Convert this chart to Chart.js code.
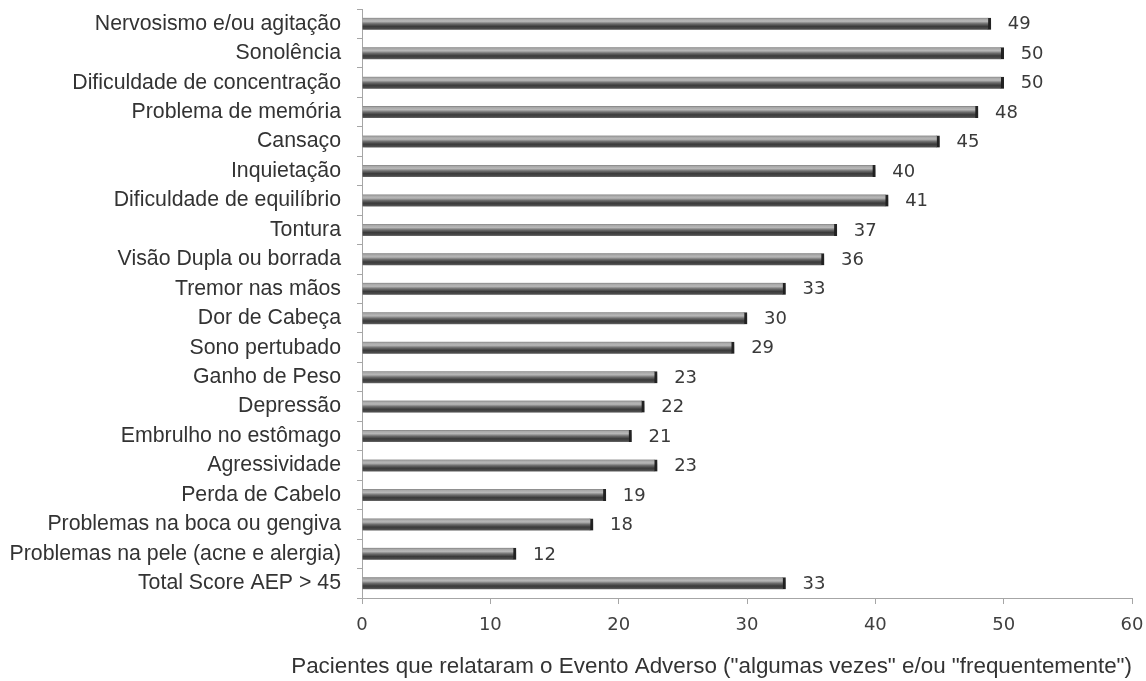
<!DOCTYPE html>
<html>
<head>
<meta charset="utf-8">
<script src="https://cdn.jsdelivr.net/npm/chart.js@4/dist/chart.umd.min.js"></script>
<style>
    html, body { margin: 0; padding: 0; background: #fff; }
    #wrap { width: 1146px; height: 681px; }
</style>
</head>
<body>
<div id="wrap"><canvas id="chart"></canvas></div>
<script>
'use strict';

var categories = [
    'Nervosismo e/ou agitação',
    'Sonolência',
    'Dificuldade de concentração',
    'Problema de memória',
    'Cansaço',
    'Inquietação',
    'Dificuldade de equilíbrio',
    'Tontura',
    'Visão Dupla ou borrada',
    'Tremor nas mãos',
    'Dor de Cabeça',
    'Sono pertubado',
    'Ganho de Peso',
    'Depressão',
    'Embrulho no estômago',
    'Agressividade',
    'Perda de Cabelo',
    'Problemas na boca ou gengiva',
    'Problemas na pele (acne e alergia)',
    'Total Score AEP > 45'
];
var patients = [49, 50, 50, 48, 45, 40, 41, 37, 36, 33, 30, 29, 23, 22, 21, 23, 19, 18, 12, 33];
var xTicks = [0, 10, 20, 30, 40, 50, 60];
var xTitle = 'Pacientes que relataram o Evento Adverso ("algumas vezes" e/ou "frequentemente")';

var axisGray = '#a6a6a6';

// cylinder-like gray fill, built per bar from the y scale
var barFill = function (context) {
    var chart = context.chart;
    if (!chart.chartArea) {
        return '#555';
    }
    var y = chart.scales.y.getPixelForValue(context.dataIndex);
    var g = chart.ctx.createLinearGradient(0, y - 6, 0, y + 6);
    g.addColorStop(0, '#808080');
    g.addColorStop(0.12, '#a9a9a9');
    g.addColorStop(0.3, '#b8b8b8');
    g.addColorStop(0.5, '#6e6e6e');
    g.addColorStop(0.72, '#3a3a3a');
    g.addColorStop(0.9, '#4a4a4a');
    g.addColorStop(1, '#6a6a6a');
    return g;
};

// soft shadow under the bars
var barShadow = {
    id: 'barShadow',
    beforeDatasetDraw: function (chart) {
        var ctx = chart.ctx;
        ctx.save();
        ctx.shadowColor = 'rgba(0,0,0,0.35)';
        ctx.shadowBlur = 4;
        ctx.shadowOffsetX = 1;
        ctx.shadowOffsetY = 3;
    },
    afterDatasetDraw: function (chart) {
        chart.ctx.restore();
    }
};

// value labels at the end of each bar
var valueLabels = {
    id: 'valueLabels',
    afterDatasetsDraw: function (chart) {
        var ctx = chart.ctx;
        var meta = chart.getDatasetMeta(0);
        ctx.save();
        ctx.font = '18px "DejaVu Sans"';
        ctx.fillStyle = '#3a3a3a';
        ctx.textAlign = 'left';
        ctx.textBaseline = 'middle';
        meta.data.forEach(function (bar, i) {
            ctx.fillText(String(patients[i]), bar.x + 17, bar.y + 1);
        });
        ctx.restore();
    }
};

// keep the plot box where the layout padding puts it
var noLabelPadding = function (scale) {
    scale.paddingTop = 0;
    scale.paddingBottom = 0;
    scale.paddingLeft = 0;
    scale.paddingRight = 0;
};

new Chart(document.getElementById('chart'), {
    type: 'bar',
    data: {
        labels: categories,
        datasets: [{
            data: patients,
            backgroundColor: barFill,
            borderColor: '#262626',
            borderWidth: { top: 0, right: 3, bottom: 0, left: 0 },
            borderSkipped: false,
            barThickness: 12
        }]
    },
    options: {
        indexAxis: 'y',
        responsive: true,
        maintainAspectRatio: false,
        animation: false,
        layout: { padding: { top: 9, right: 14, bottom: 0, left: 0 } },
        plugins: {
            legend: { display: false },
            tooltip: { enabled: false },
            // axis title sits off-centre in the source, so it is drawn as the chart title aligned right
            title: {
                display: true,
                position: 'bottom',
                align: 'end',
                text: xTitle,
                color: '#333',
                padding: { top: 0, bottom: 1 },
                font: { family: '"Liberation Sans", Arial, sans-serif', size: 22.4, weight: 'normal' }
            }
        },
        scales: {
            y: {
                afterFit: function (scale) {
                    scale.width = 362;
                    noLabelPadding(scale);
                },
                grid: {
                    display: true,
                    drawOnChartArea: false,
                    offset: true,
                    tickLength: 5,
                    color: axisGray
                },
                border: { color: axisGray },
                ticks: {
                    padding: 16,
                    color: '#333',
                    font: { family: '"Liberation Sans", Arial, sans-serif', size: 21.3 }
                }
            },
            x: {
                min: 0,
                max: 60,
                afterFit: function (scale) {
                    scale.height = 55.1;
                    noLabelPadding(scale);
                },
                afterBuildTicks: function (scale) {
                    scale.ticks = xTicks.map(function (v) { return { value: v }; });
                },
                grid: {
                    display: true,
                    drawOnChartArea: false,
                    tickLength: 6,
                    color: axisGray
                },
                border: { color: axisGray },
                ticks: {
                    padding: 11,
                    color: '#404040',
                    font: { family: '"DejaVu Sans", sans-serif', size: 18 }
                }
            }
        }
    },
    plugins: [barShadow, valueLabels]
});
</script>
</body>
</html>
